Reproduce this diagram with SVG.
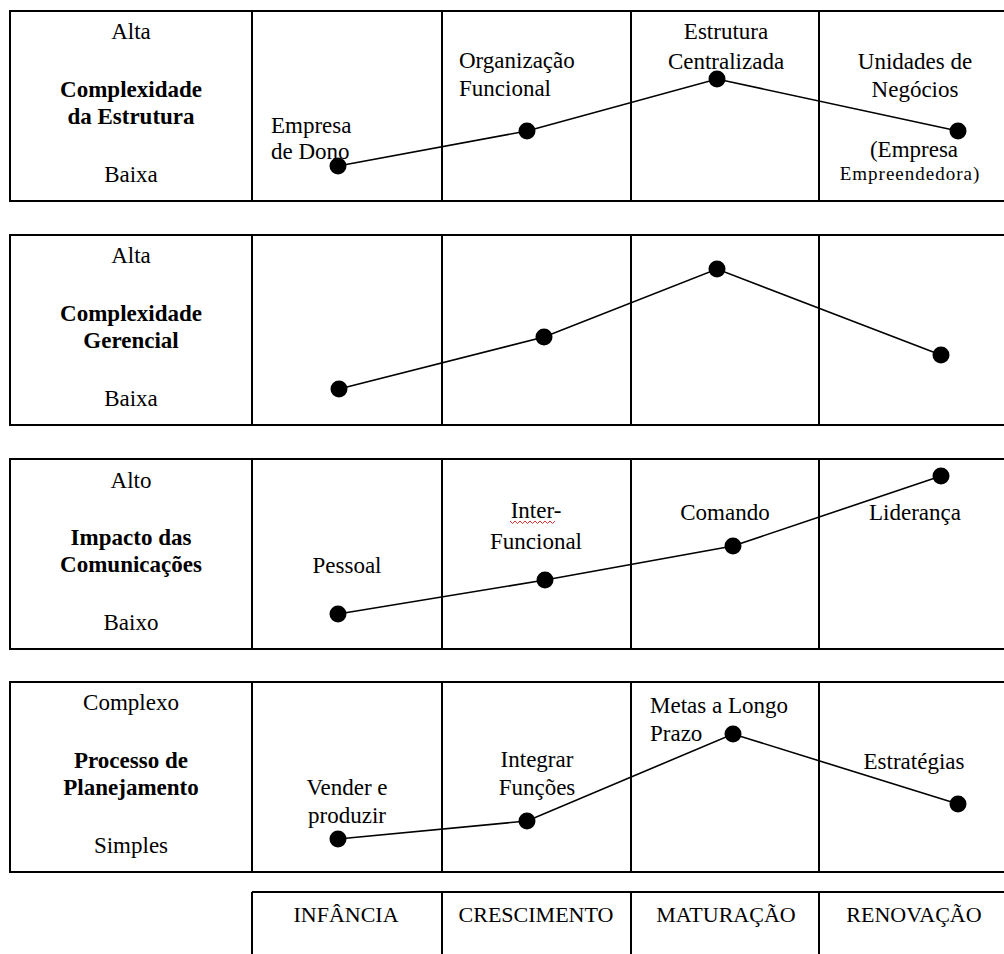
<svg xmlns="http://www.w3.org/2000/svg" width="1004" height="954" viewBox="0 0 1004 954">
  <style>
    text { font-family: "Liberation Serif", "DejaVu Serif", "Times New Roman", serif; font-size: 23px; fill: #000; }
    .c { text-anchor: middle; }
    .b { font-weight: bold; }
    .s { font-size: 19px; letter-spacing: 1px; }
    .cap { font-size: 22px; }
    .frame { fill: none; stroke: #000; stroke-width: 2; }
    .grid { stroke: #000; stroke-width: 2; }
    .trend { fill: none; stroke: #000; stroke-width: 1.6; }
    .dot { fill: #000; }
  </style>
  <defs>
    <circle id="pt" r="8.5" class="dot"/>
  </defs>
  <rect width="1004" height="954" fill="#fff"/>

  <!-- Panel 1: structure complexity -->
  <g id="panel-estrutura">
    <rect class="frame" x="10" y="11" width="1000" height="190"/>
    <line class="grid" x1="252" y1="11" x2="252" y2="201"/>
    <line class="grid" x1="442" y1="11" x2="442" y2="201"/>
    <line class="grid" x1="631" y1="11" x2="631" y2="201"/>
    <line class="grid" x1="819" y1="11" x2="819" y2="201"/>
    <text class="c" x="131" y="39" font-family="Liberation Serif, serif">Alta</text>
    <text class="c b" x="131" y="97">Complexidade</text>
    <text class="c b" x="131" y="124">da Estrutura</text>
    <text class="c" x="131" y="182">Baixa</text>
    <text x="271" y="133">Empresa</text>
    <text x="271" y="159">de Dono</text>
    <text x="459" y="68">Organização</text>
    <text x="459" y="96">Funcional</text>
    <text class="c" x="726" y="39">Estrutura</text>
    <text class="c" x="726" y="69">Centralizada</text>
    <text class="c" x="915" y="69">Unidades de</text>
    <text class="c" x="915" y="97">Negócios</text>
    <text class="c" x="914" y="157">(Empresa</text>
    <text class="c s" x="910" y="180">Empreendedora)</text>
  </g>

  <!-- Panel 2: managerial complexity -->
  <g id="panel-gerencial">
    <rect class="frame" x="10" y="235" width="1000" height="190"/>
    <line class="grid" x1="252" y1="235" x2="252" y2="425"/>
    <line class="grid" x1="442" y1="235" x2="442" y2="425"/>
    <line class="grid" x1="631" y1="235" x2="631" y2="425"/>
    <line class="grid" x1="819" y1="235" x2="819" y2="425"/>
    <text class="c" x="131" y="263">Alta</text>
    <text class="c b" x="131" y="321">Complexidade</text>
    <text class="c b" x="131" y="348">Gerencial</text>
    <text class="c" x="131" y="406">Baixa</text>
  </g>

  <!-- Panel 3: communications impact -->
  <g id="panel-comunicacoes">
    <rect class="frame" x="10" y="459" width="1000" height="190"/>
    <line class="grid" x1="252" y1="459" x2="252" y2="649"/>
    <line class="grid" x1="442" y1="459" x2="442" y2="649"/>
    <line class="grid" x1="631" y1="459" x2="631" y2="649"/>
    <line class="grid" x1="819" y1="459" x2="819" y2="649"/>
    <text class="c" x="131" y="488">Alto</text>
    <text class="c b" x="131" y="545">Impacto das</text>
    <text class="c b" x="131" y="572">Comunicações</text>
    <text class="c" x="131" y="630">Baixo</text>
    <text class="c" x="347" y="573">Pessoal</text>
    <text class="c" x="536" y="518">Inter-</text>
    <path d="M510 521 l2.5 2.5 l2.5 -2.5 l2.5 2.5 l2.5 -2.5 l2.5 2.5 l2.5 -2.5 l2.5 2.5 l2.5 -2.5 l2.5 2.5 l2.5 -2.5 l2.5 2.5 l2.5 -2.5 l2.5 2.5 l2.5 -2.5 l2.5 2.5 l2.5 -2.5 l2.5 2.5 l2.5 -2.5" fill="none" stroke="#e03030" stroke-width="1"/>
    <text class="c" x="536" y="549">Funcional</text>
    <text class="c" x="725" y="520">Comando</text>
    <text class="c" x="915" y="520">Liderança</text>
  </g>

  <!-- Panel 4: planning process -->
  <g id="panel-planejamento">
    <rect class="frame" x="10" y="682" width="1000" height="190"/>
    <line class="grid" x1="252" y1="682" x2="252" y2="872"/>
    <line class="grid" x1="442" y1="682" x2="442" y2="872"/>
    <line class="grid" x1="631" y1="682" x2="631" y2="872"/>
    <line class="grid" x1="819" y1="682" x2="819" y2="872"/>
    <text class="c" x="131" y="710">Complexo</text>
    <text class="c b" x="131" y="768">Processo de</text>
    <text class="c b" x="131" y="795">Planejamento</text>
    <text class="c" x="131" y="853">Simples</text>
    <text class="c" x="347" y="795">Vender e</text>
    <text class="c" x="347" y="823">produzir</text>
    <text class="c" x="537" y="767">Integrar</text>
    <text class="c" x="537" y="795">Funções</text>
    <text x="650" y="713">Metas a Longo</text>
    <text x="650" y="741">Prazo</text>
    <text class="c" x="914" y="769">Estratégias</text>
  </g>

  <!-- Life-cycle stage axis -->
  <g id="stages">
    <line class="grid" x1="252" y1="892" x2="1010" y2="892"/>
    <line class="grid" x1="252" y1="892" x2="252" y2="960"/>
    <line class="grid" x1="442" y1="892" x2="442" y2="960"/>
    <line class="grid" x1="631" y1="892" x2="631" y2="960"/>
    <line class="grid" x1="819" y1="892" x2="819" y2="960"/>
    <text class="c cap" x="346" y="922">INFÂNCIA</text>
    <text class="c cap" x="536" y="922">CRESCIMENTO</text>
    <text class="c cap" x="726" y="922">MATURAÇÃO</text>
    <text class="c cap" x="914" y="922">RENOVAÇÃO</text>
  </g>

  <!-- Trend lines and data points -->
  <g id="connectors">
    <polyline class="trend" points="338,166 527,131 717,79 958,131"/>
    <polyline class="trend" points="339,389 544,337 717,269 941,355"/>
    <polyline class="trend" points="338,614 545,580 733,546 941,476"/>
    <polyline class="trend" points="338,839 527,821 733,734 958,804"/>
    <use href="#pt" x="338" y="166"/>
    <use href="#pt" x="527" y="131"/>
    <use href="#pt" x="717" y="79"/>
    <use href="#pt" x="958" y="131"/>
    <use href="#pt" x="339" y="389"/>
    <use href="#pt" x="544" y="337"/>
    <use href="#pt" x="717" y="269"/>
    <use href="#pt" x="941" y="355"/>
    <use href="#pt" x="338" y="614"/>
    <use href="#pt" x="545" y="580"/>
    <use href="#pt" x="733" y="546"/>
    <use href="#pt" x="941" y="476"/>
    <use href="#pt" x="338" y="839"/>
    <use href="#pt" x="527" y="821"/>
    <use href="#pt" x="733" y="734"/>
    <use href="#pt" x="958" y="804"/>
  </g>
</svg>
